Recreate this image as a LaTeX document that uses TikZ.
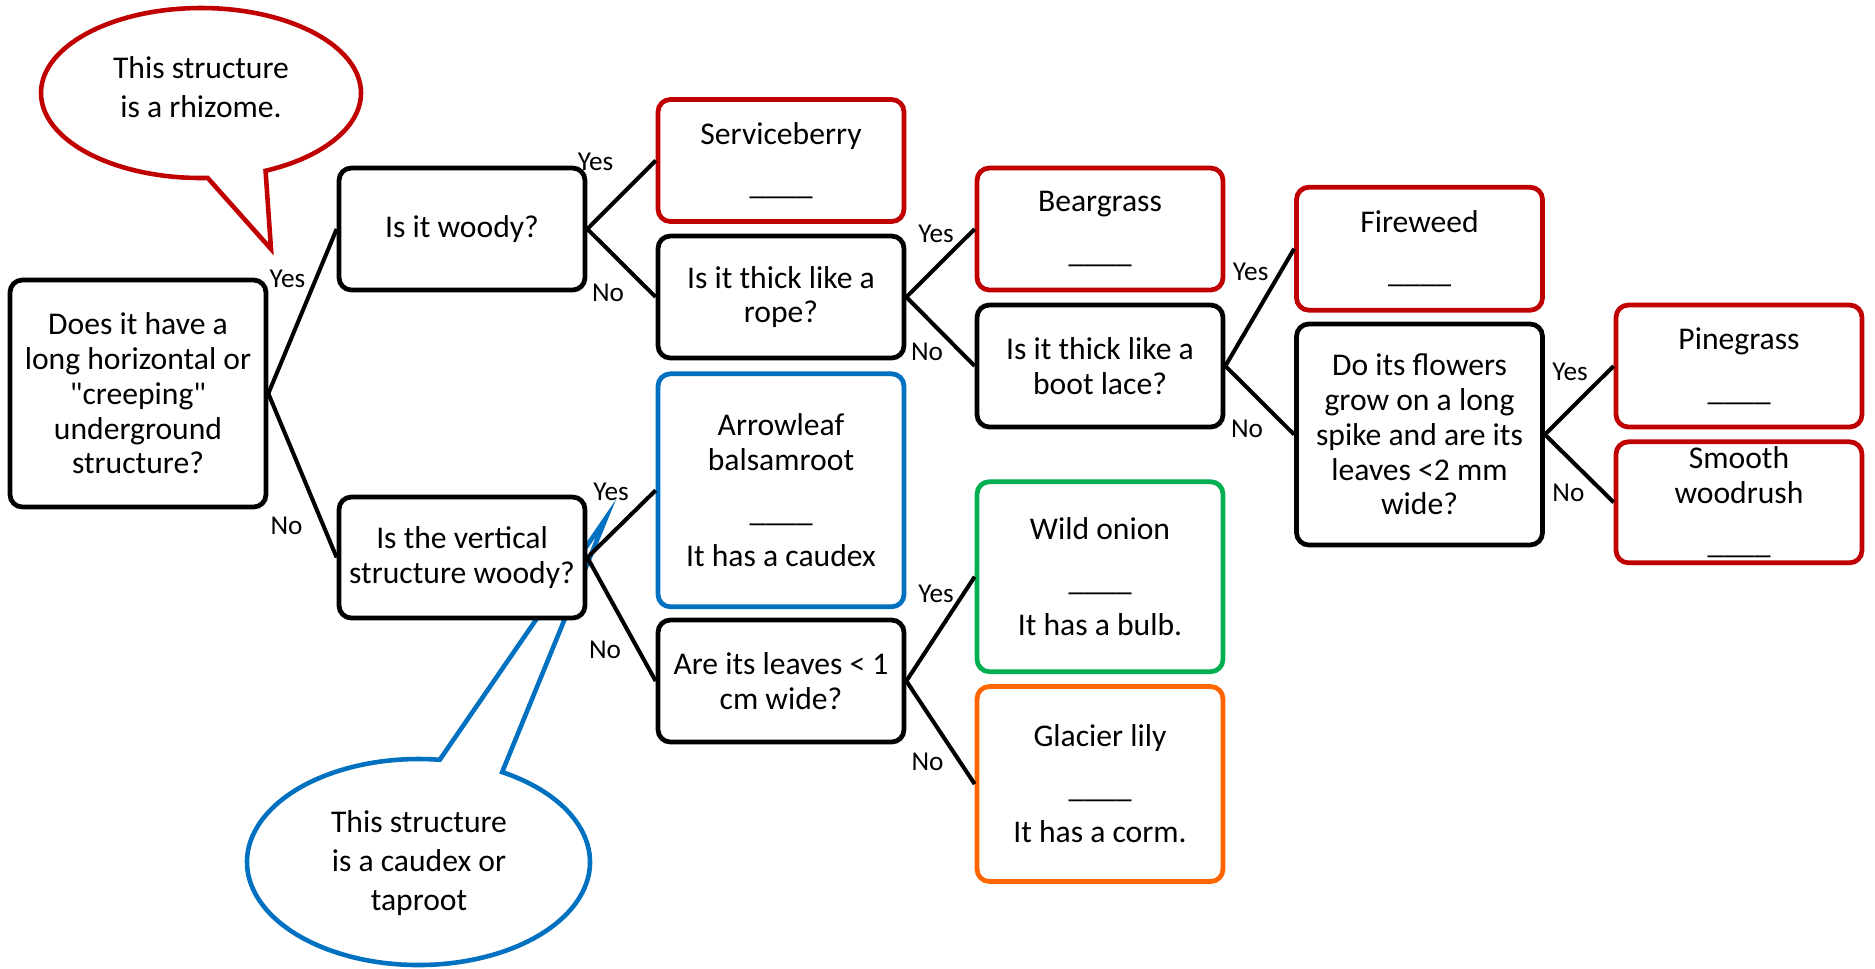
\documentclass[tikz,border=0pt]{standalone}
\usepackage{fontspec}
\setmainfont{Carlito}
\definecolor{cred}{HTML}{C00000}
\definecolor{cblue}{HTML}{0070C0}
\definecolor{cgreen}{HTML}{00B050}
\definecolor{corange}{HTML}{FF6600}
% straight double quote, set as a glyph so that it is not turned into a curly one
\newcommand\dq{\XeTeXglyph\XeTeXcharglyph"22\relax}
\begin{document}
\begin{tikzpicture}[x=0.02cm,y=-0.02cm,
  qbox/.style={draw=black, line width=2.7pt, rounded corners=7pt, fill=white, align=center,
    inner sep=2pt, minimum width=4.92cm, font=\fontsize{18}{19.8}\selectfont},
  leafbox/.style={qbox, draw=#1},
  branch/.style={line width=2.3pt},
  lbl/.style={inner sep=0pt, font=\fontsize{15.5}{18}\selectfont},
  callout/.style={line width=2.6pt, fill=white},
  note/.style={align=center, inner sep=0pt, font=\fontsize{18}{22}\selectfont}]
\useasboundingbox (0,0) rectangle (1875,968);
% speech bubbles
\draw[callout, draw=cred] (201,93) ++(87.6:160 and 85) arc[start angle=87.6, end angle=426.2, x radius=160, y radius=85] -- (271,249) -- cycle;
\node[note](rhz) at (201,87) {This structure\\is a rhizome.};
\draw[callout, draw=cblue] (418.5,862) ++(-60.8:171.5 and 103) arc[start angle=-60.8, end angle=277.1, x radius=171.5, y radius=103] -- (606,518) -- cycle;
\node[note](cdx) at (419,863) {This structure\\is a caudex or\\taproot};
% questions
\node[qbox, minimum width=5.12cm, minimum height=4.54cm](root) at (138,393.5) {Does it have a\\long horizontal or\\\dq creeping\dq\\underground\\structure?};
\node[qbox, minimum height=2.44cm](woody) at (462,229) {Is it woody?};
\node[qbox, minimum height=2.42cm](vert) at (462,557.5) {Is the vertical\\structure woody?};
\node[qbox, minimum height=2.44cm](rope) at (781,297) {Is it thick like a\\rope?};
\node[qbox, minimum height=2.44cm](leaves) at (781,681) {Are its leaves < 1\\cm wide?};
\node[qbox, minimum height=2.44cm](lace) at (1100,366) {Is it thick like a\\boot lace?};
\node[qbox, minimum height=4.42cm](spike) at (1419.5,434.5) {Do its flowers\\grow on a long\\spike and are its\\leaves <2 mm\\wide?};
% answers
\node[leafbox=cred, minimum height=2.44cm](serv) at (781,160.5) {Serviceberry\\[9pt]\_\_\_\_};
\node[leafbox=cblue, minimum height=4.66cm](arrow) at (781,490.3) {Arrowleaf\\balsamroot\\[9pt]\_\_\_\_\\[6pt]It has a caudex};
\node[leafbox=cred, minimum height=2.44cm](bear) at (1100,229) {Beargrass\\[9pt]\_\_\_\_};
\node[leafbox=cgreen, minimum height=3.8cm](onion) at (1100,576.7) {Wild onion\\[9pt]\_\_\_\_\\[6pt]It has a bulb.};
\node[leafbox=corange, minimum height=3.9cm](lily) at (1100,784) {Glacier lily\\[9pt]\_\_\_\_\\[6pt]It has a corm.};
\node[leafbox=cred, minimum height=2.46cm](fire) at (1419.5,248.7) {Fireweed\\[9pt]\_\_\_\_};
\node[leafbox=cred, minimum height=2.44cm](pine) at (1739,366) {Pinegrass\\[9pt]\_\_\_\_};
\node[leafbox=cred, minimum height=2.42cm](wood) at (1739,502.3) {Smooth\\woodrush\\[9pt]\_\_\_\_};
% branches
\draw[branch] (root.east) -- (woody.west);
\draw[branch] (root.east) -- (vert.west);
\draw[branch] (woody.east) -- (serv.west);
\draw[branch] (woody.east) -- (rope.west);
\draw[branch] (rope.east) -- (bear.west);
\draw[branch] (rope.east) -- (lace.west);
\draw[branch] (lace.east) -- (fire.west);
\draw[branch] (lace.east) -- (spike.west);
\draw[branch] (spike.east) -- (pine.west);
\draw[branch] (spike.east) -- (wood.west);
\draw[branch] (vert.east) -- (arrow.west);
\draw[branch] (vert.east) -- (leaves.west);
\draw[branch] (leaves.east) -- (onion.west);
\draw[branch] (leaves.east) -- (lily.west);
% yes / no
\node[lbl](y1) at (287.5,278.6) {Yes};
\node[lbl](n1) at (286.5,525.5) {No};
\node[lbl](y2) at (595.5,162) {Yes};
\node[lbl](n2) at (608,292.7) {No};
\node[lbl](y3) at (936,234) {Yes};
\node[lbl](n3) at (927,351.5) {No};
\node[lbl](y4) at (1250.6,271.7) {Yes};
\node[lbl](n4) at (1247,429) {No};
\node[lbl](y5) at (1570,371.7) {Yes};
\node[lbl](n5) at (1568.4,492.7) {No};
\node[lbl](y6) at (611,491.5) {Yes};
\node[lbl](n6) at (605,650) {No};
\node[lbl](y7) at (936,593.5) {Yes};
\node[lbl](n7) at (927.6,762) {No};
\end{tikzpicture}
\end{document}
